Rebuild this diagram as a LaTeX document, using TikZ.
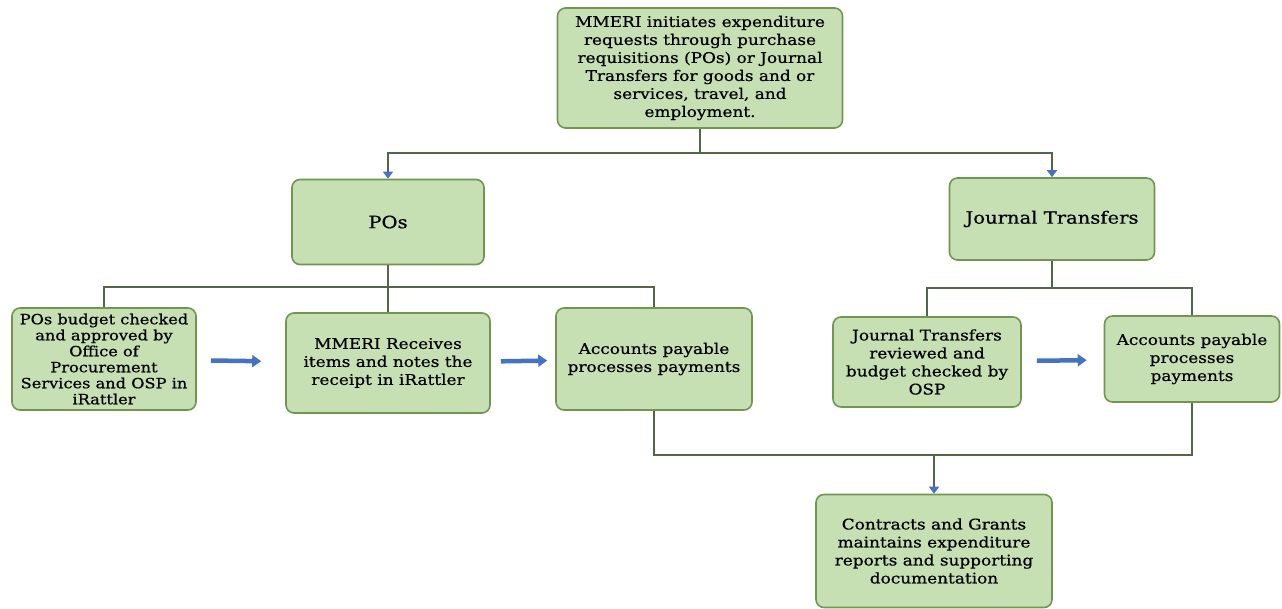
\documentclass[tikz,border=0pt]{standalone}
\usepackage{fontspec}
\setmainfont{DejaVu Serif}[FakeStretch=1.15,FakeBold=0.6]
\usetikzlibrary{arrows.meta}
\definecolor{boxfill}{RGB}{199,224,179}
\definecolor{boxline}{RGB}{112,150,82}
\definecolor{linkcol}{RGB}{84,102,72}
\definecolor{arrowblue}{RGB}{68,114,196}

\tikzset{stepbox/.style={draw=boxline, fill=boxfill, line width=1.6pt, rounded corners=8pt, inner sep=2pt, font=\fontsize{14.7}{18}\selectfont}}
\tikzset{ headbox/.style={stepbox, font=\fontsize{17}{20}\selectfont}}
\tikzset{ link/.style={draw=linkcol, line width=1.4pt}}
\tikzset{ down/.style={link, -{Triangle[length=7pt,width=10pt,color=arrowblue]}}}
\tikzset{ flow/.style={draw=arrowblue, line width=4.5pt, -{Triangle[length=9pt,width=12pt]}}}

\begin{document}
\begin{tikzpicture}[x=1pt,y=-1pt,every node/.style={align=center}]
  \useasboundingbox (0,0) rectangle (1282,609);
      % Requests
  \node[stepbox, minimum width=285, minimum height=120] (Initiate) at (700,68) {MMERI initiates expenditure\\requests through purchase\\requisitions (POs) or Journal\\Transfers for goods and or\\services, travel, and\\employment.};
  \node[headbox, minimum width=192, minimum height=85] (POs) at (388,222) {POs};
  \node[headbox, minimum width=205, minimum height=82] (Journal) at (1052,219) {Journal Transfers};

  % PO path
  \node[stepbox, minimum width=184, minimum height=102, font=\fontsize{14.1}{16}\selectfont] (PoBudget) at (104,359) {POs budget checked\\and approved by\\Office of\\Procurement\\Services and OSP in\\iRattler};
  \node[stepbox, minimum width=204, minimum height=100] (Receive) at (388,363) {MMERI Receives\\items and notes the\\receipt in iRattler};
  \node[stepbox, minimum width=196, minimum height=102] (PayLeft) at (654,359) {Accounts payable\\processes payments};

  % journal path
  \node[stepbox, minimum width=188, minimum height=90] (Review) at (927,362) {Journal Transfers\\reviewed and\\budget checked by\\OSP};
  \node[stepbox, minimum width=175, minimum height=86] (PayRight) at (1192,359) {Accounts payable\\processes\\payments};

  \node[stepbox, minimum width=236, minimum height=113] (Grants) at (934,551) {Contracts and Grants\\maintains expenditure\\reports and supporting\\documentation};

  \coordinate (TopBus) at (700,153);
  \coordinate (PoBus) at (388,287);
  \coordinate (JtBus) at (1052,288);
  \coordinate (PayBus) at (934,455);

  \draw[link] (Initiate) -- (TopBus);
  \draw[down] (TopBus) -| (POs);
  \draw[down] (TopBus) -| (Journal);

  \draw[link] (POs) -- (PoBus);
  \draw[link] (PoBus) -| (PoBudget);
  \draw[link] (PoBus) -- (Receive);
  \draw[link] (PoBus) -| (PayLeft);

  \draw[link] (Journal) -- (JtBus);
  \draw[link] (JtBus) -| (Review);
  \draw[link] (JtBus) -| (PayRight);

  \draw[flow, shorten <=14pt, shorten >=24pt] (PoBudget) -- (Receive);
  \draw[flow, shorten <=10pt, shorten >=8pt] (Receive) -- (PayLeft);
  \draw[flow, shorten <=15pt, shorten >=17pt] (Review) -- (PayRight);

  \draw[link] (PayLeft) |- (PayBus);
  \draw[link] (PayRight) |- (PayBus);
  \draw[down] (PayBus) -- (Grants);

\end{tikzpicture}
\end{document}
